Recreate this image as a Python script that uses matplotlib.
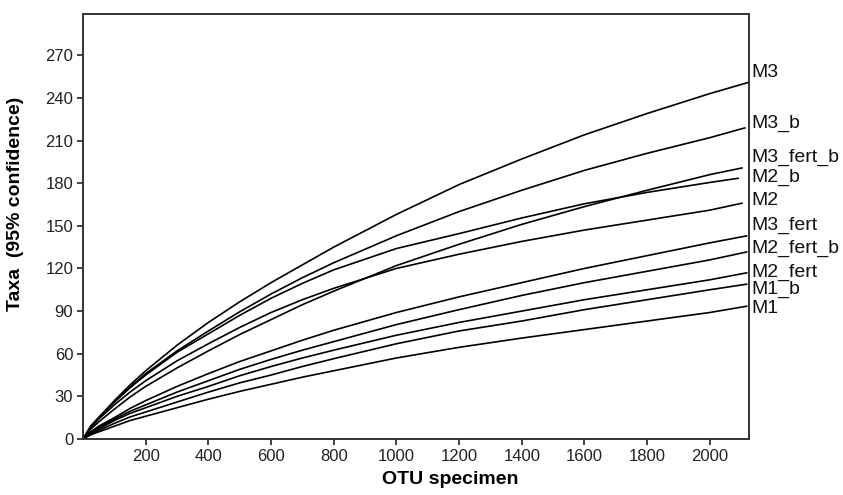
import matplotlib
matplotlib.use("Agg")
import matplotlib.pyplot as plt
import matplotlib.transforms as mtransforms

plt.rcParams['font.family'] = ['Liberation Sans', 'DejaVu Sans']

# shared sample depths (last point of each curve is in end_x)
depth = [0, 25, 50, 100, 150, 200, 300, 400, 500, 600, 700, 800,
         1000, 1200, 1400, 1600, 1800, 2000]

names = ['M3', 'M3_b', 'M3_fert_b', 'M2_b', 'M2',
         'M3_fert', 'M2_fert_b', 'M2_fert', 'M1_b', 'M1']

end_x = [2125, 2114, 2105, 2093, 2105, 2120, 2120, 2120, 2120, 2120]

m3 = [0, 9, 15, 27, 38, 48, 66, 82, 96.5, 110, 122.5, 135,
      158, 179, 197, 214, 229, 243, 251]
m3_b = [0, 9, 15, 26, 36.5, 46, 62, 76, 89.5, 102, 113.5, 124,
        143, 160, 175, 189, 201, 212, 219]
m3_fert_b = [0, 7, 12, 21, 29.5, 37, 50, 62, 73.5, 84, 94.5, 104,
             122, 137, 151, 163.5, 175, 186, 190.8]
m2_b = [0, 9, 15, 26, 36, 45, 61, 74, 87, 99, 109.5, 119,
        134, 144.5, 155.5, 165.5, 173.5, 180.5, 183.5]
m2 = [0, 8, 14, 24, 33, 41, 55, 67, 78.5, 89, 98, 106,
      120, 130, 139, 147, 154, 161, 166]
m3_fert = [0, 5, 9, 15, 21.5, 27, 37, 46, 54.5, 62, 69.5, 76.5,
           89, 100, 110, 120, 129, 138, 143]
m2_fert_b = [0, 5, 8, 14, 19.5, 24, 33, 41, 49, 56, 62.5, 68.5,
             80.5, 91, 101, 110, 118, 126, 131.7]
m2_fert = [0, 4, 7, 13, 18, 22, 30, 37, 44.5, 51, 57, 62.5,
           73, 82, 90, 98, 105, 112, 117]
m1_b = [0, 4, 6, 11, 15.5, 19, 26, 33, 39.5, 45, 51, 56.5,
        67, 76, 83, 91, 98, 105, 109]
m1 = [0, 3, 5, 9, 13, 16, 22, 28, 33.5, 38.5, 43.5, 48,
      57, 64.5, 71, 77, 83, 89, 93.5]

series = [m3, m3_b, m3_fert_b, m2_b, m2, m3_fert, m2_fert_b, m2_fert, m1_b, m1]

# where the series names sit on the right margin (data units)
label_y = [258, 222, 198, 184, 168, 150.5, 134, 117.5, 105, 92]

x_ticks = list(range(200, 2001, 200))
y_ticks = list(range(0, 271, 30))

fig = plt.figure(figsize=(8.43, 4.95), dpi=100)
ax = fig.add_axes([83 / 843, 1 - 439 / 495, 666 / 843, 425 / 495])

for vals, xe in zip(series, end_x):
    ax.plot(depth + [xe], vals, color='black', lw=1.2, solid_capstyle='butt')

trans = mtransforms.blended_transform_factory(ax.transAxes, ax.transData)
for name, yl in zip(names, label_y):
    ax.text(1.003, yl, name, transform=trans, ha='left', va='center',
            fontsize=14, color='#111111', clip_on=False)

ax.set_xlim(0, 2125)
ax.set_ylim(0, 299)
ax.set_xticks(x_ticks)
ax.set_yticks(y_ticks)
ax.tick_params(direction='out', length=4, width=1.2, labelsize=12,
               colors='#222222', pad=3)
for sp in ax.spines.values():
    sp.set_linewidth(1.4)
    sp.set_color('#333333')

ax.set_xlabel('OTU specimen', fontsize=14, fontweight='bold', labelpad=2)
ax.xaxis.set_label_coords(0.552, -0.075)
ax.set_ylabel('Taxa  (95% confidence)', fontsize=14, fontweight='bold')
ax.yaxis.set_label_coords(-0.088, 0.553)

fig.savefig('out.png', dpi=100)
